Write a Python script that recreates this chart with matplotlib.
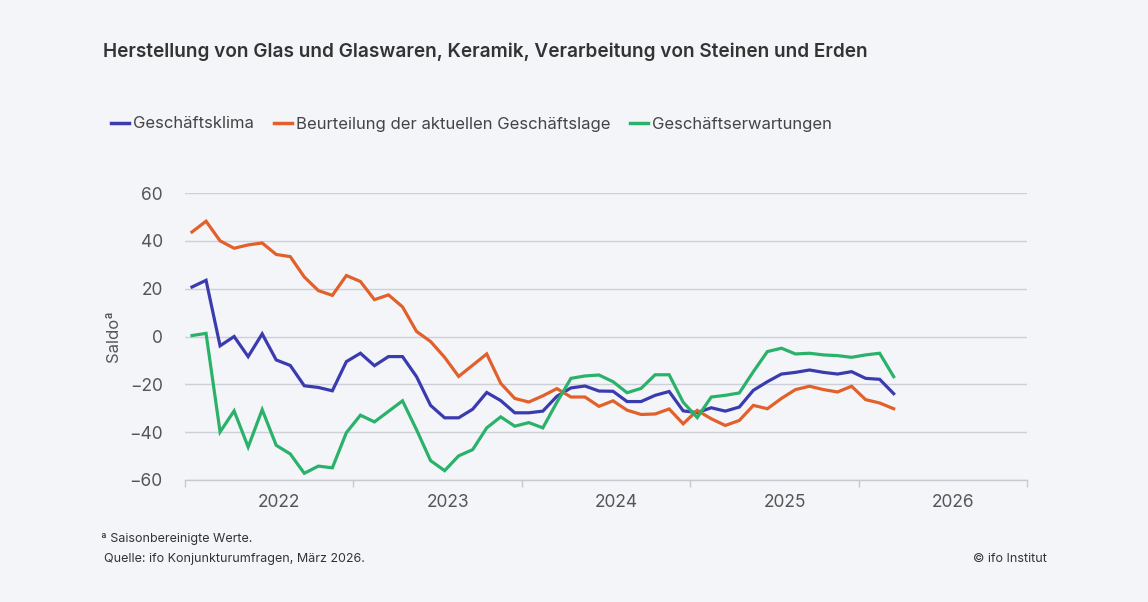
import numpy as np
import matplotlib
matplotlib.use("Agg")
import matplotlib.pyplot as plt
from matplotlib.lines import Line2D

plt.rcParams['font.family'] = ['Inter', 'DejaVu Sans']

# ---- data (monthly, Jan 2022 .. Mar 2026) ----
start_year = 2022
n_months = 51
klima = [20.7, 23.5, -3.9, 0.0, -8.4, 1.1, -9.8, -12.1, -20.6, -21.3, -22.7, -10.5,
         -7.0, -12.2, -8.4, -8.4, -16.8, -28.8, -34.0, -34.0, -30.4, -23.4, -26.8, -31.9,
         -31.9, -31.2, -25.0, -21.5, -20.7, -22.8, -22.9, -27.2, -27.2, -24.6, -23.0, -31.1,
         -31.8, -29.8, -31.2, -29.5, -22.5, -18.9, -15.7, -15.0, -14.0, -15.0, -15.7, -14.7,
         -17.5, -17.9, -23.9]
lage = [43.7, 48.2, 40.0, 36.9, 38.3, 39.1, 34.3, 33.4, 24.9, 19.2, 17.2, 25.5,
        23.0, 15.4, 17.4, 12.4, 2.1, -2.1, -8.7, -16.7, -12.0, -7.3, -19.6, -25.9,
        -27.4, -24.8, -21.8, -25.3, -25.3, -29.2, -26.9, -30.8, -32.6, -32.4, -30.3, -36.5,
        -30.9, -34.4, -37.2, -35.1, -28.8, -30.2, -25.9, -22.2, -20.8, -22.2, -23.2, -20.8,
        -26.4, -27.8, -30.2]
erwartungen = [0.4, 1.3, -39.9, -31.1, -46.2, -30.6, -45.5, -49.1, -57.2, -54.2, -54.9, -40.2,
               -32.9, -35.7, -31.3, -26.9, -39.0, -51.9, -56.1, -49.9, -47.3, -38.2, -33.6, -37.5,
               -36.0, -38.2, -27.5, -17.5, -16.5, -16.1, -18.9, -23.5, -21.7, -16.0, -16.0, -27.5,
               -33.9, -25.3, -24.6, -23.6, -14.7, -6.3, -4.9, -7.3, -7.0, -7.7, -8.0, -8.7,
               -7.7, -7.0, -16.8]
series_names = ["Geschäftsklima", "Beurteilung der aktuellen Geschäftslage", "Geschäftserwartungen"]
year_labels = ["2022", "2023", "2024", "2025", "2026"]
y_ticks = [-60, -40, -20, 0, 20, 40, 60]

colors = ["#3b3bb0", "#e2602a", "#2bb26a"]
bg = "#f4f5f9"

x = start_year + (np.arange(n_months) + 0.5) / 12.0

fig = plt.figure(figsize=(11.48, 6.02), dpi=100, facecolor=bg)
ax = fig.add_axes([185/1148, 1-480/602, (1027-185)/1148, (480-193)/602])
ax.set_facecolor(bg)

for vals, c, name in zip([klima, lage, erwartungen], colors, series_names):
    ax.plot(x, vals, color=c, lw=2.3, solid_joinstyle='miter', label=name, zorder=3)

ax.set_xlim(2022, 2027)
ax.set_ylim(-60, 60)
ax.set_yticks(y_ticks)
ax.set_yticklabels([str(v).replace("-", "\u2212") for v in y_ticks])
ax.yaxis.grid(True, color="#cdd0d6", lw=1.0)
ax.set_axisbelow(True)
for s in ["top", "right", "left"]:
    ax.spines[s].set_visible(False)
ax.spines["bottom"].set_color("#c6c9cf")
ax.spines["bottom"].set_linewidth(1.0)
ax.tick_params(axis='y', length=0, pad=16, labelsize=12.5, labelcolor="#555555")

years = np.arange(2022, 2028)
ax.set_xticks(years)
ax.set_xticklabels([])
ax.tick_params(axis='x', which='major', length=5, color="#c6c9cf", width=1)
ax.set_xticks(np.array([int(y) for y in year_labels]) + 0.56, minor=True)
ax.set_xticklabels(year_labels, minor=True)
ax.tick_params(axis='x', which='minor', length=0, pad=10, labelsize=12.5, labelcolor="#555555")

ax.set_ylabel("Saldo\u00aa", fontsize=12, color="#555555")
ax.yaxis.set_label_coords(-64/842, 0.5)

fig.text(103/1148, 1-52/602, "Herstellung von Glas und Glaswaren, Keramik, Verarbeitung von Steinen und Erden",
         fontsize=13.7, fontweight='semibold', color="#333333", va='center', ha='left')

handles = [Line2D([0], [0], color=c, lw=2.5) for c in colors]
leg = fig.legend(handles, series_names, loc='center left', bbox_to_anchor=(111/1148, 1-124/602),
                 ncol=3, frameon=False, handlelength=1.1, handletextpad=0.25, columnspacing=1.15,
                 fontsize=12, borderaxespad=0, borderpad=0)
for t in leg.get_texts():
    t.set_color("#444444")

fig.text(101/1148, 1-539/602, "\u00aa Saisonbereinigte Werte.", fontsize=9, color="#333333", va='center')
fig.text(104/1148, 1-559/602, "Quelle: ifo Konjunkturumfragen, März 2026.", fontsize=9, color="#333333", va='center')
fig.text(1047/1148, 1-559/602, "© ifo Institut", fontsize=9, color="#333333", va='center', ha='right')

fig.savefig("out.png", dpi=100, facecolor=bg)
